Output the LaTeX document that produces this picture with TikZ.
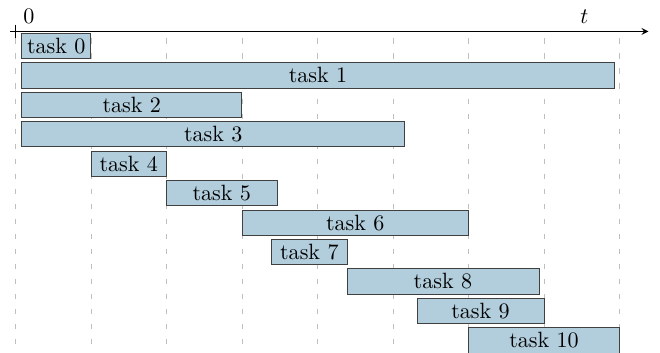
\documentclass[tikz,border=0pt]{standalone}
\usepackage{amsmath}
\usepackage{tikz}
\usetikzlibrary{arrows,positioning}
\definecolor{taskblue}{RGB}{178,206,220}
\colorlet{gridgray}{black!25}

\begin{document}
\begin{tikzpicture}%
        \useasboundingbox (-0.246,-5.11) rectangle (10.243,0.5);%%
        %\draw[step=1.2cm,color=gray,very thin] (0,-5) grid (9.6,0);%%
        \foreach \x in {0,1.2,...,9.7} {%%
          \draw[gridgray,dash pattern=on 2.4pt off 4.4pt] (\x,-0.11)--(\x,-5.11);}%%
        \coordinate (tstart) at (-0.09,0); %%
        \coordinate (tend) at (10.06,0); %%
        \draw[->,-stealth] (tstart)--(tend); %%
        \draw (0,0.11)--(0,-0.11); %%
        \node[above right] (zero) at (0,0) {$0$}; %%
        \node[above] (tlabel) at (9.04,0) {$t$}; %%
        \begin{scope}[shape=rectangle,inner sep=0pt]
        \tikzstyle{every node}=[draw=black!75,fill=taskblue,minimum height=0.4cm] %%
        \node[minimum width=1.10cm] (task0) at (0.649,-0.230) {task 0}; %%
        \node[minimum width=9.42cm] (task1) at (4.808,-0.698) {task 1}; %%
        \node[minimum width=3.50cm] (task2) at (1.849,-1.166) {task 2}; %%
        \node[minimum width=6.09cm] (task3) at (3.144,-1.634) {task 3}; %%
        \node[minimum width=1.20cm] (task4) at (1.800,-2.102) {task 4}; %%
        \node[minimum width=1.756cm] (task5) at (3.278,-2.570) {task 5}; %%
        \node[minimum width=3.60cm] (task6) at (5.400,-3.038) {task 6}; %%
        \node[minimum width=1.196cm] (task7) at (4.670,-3.506) {task 7}; %%
        \node[minimum width=3.052cm] (task8) at (6.794,-3.974) {task 8}; %%
        \node[minimum width=2.018cm] (task9) at (7.391,-4.442) {task 9}; %%
        \node[minimum width=2.40cm] (task10) at (8.400,-4.910) {task 10}; %%
        \end{scope}
        \end{tikzpicture}
\end{document}
